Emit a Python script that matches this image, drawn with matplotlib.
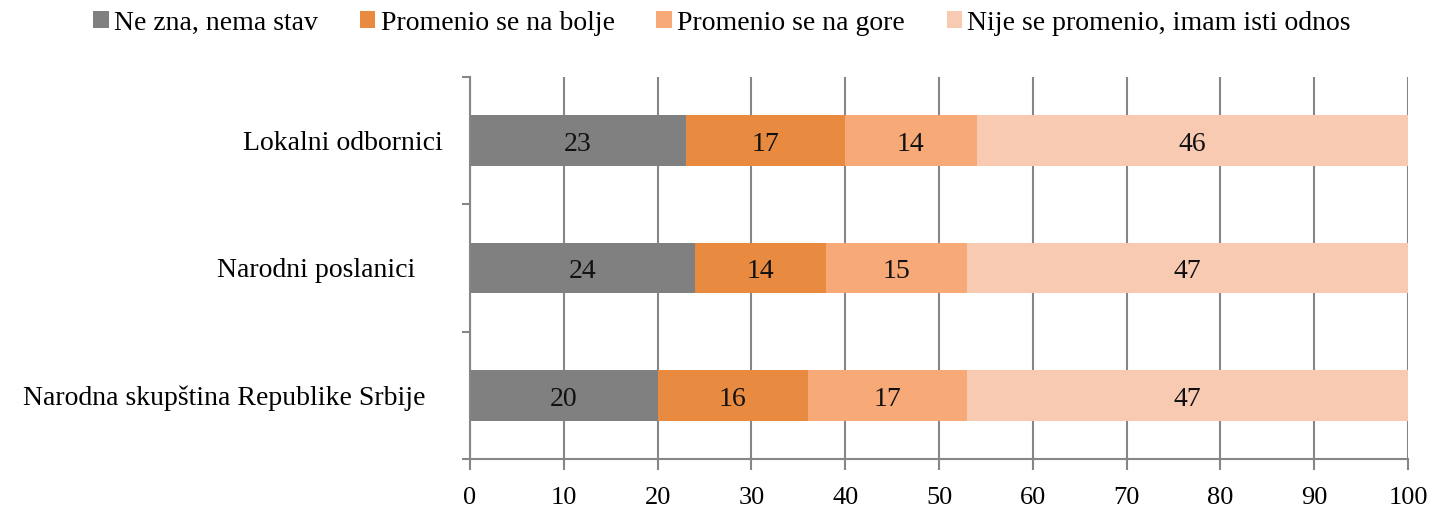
import numpy as np
import matplotlib.pyplot as plt
import matplotlib.transforms as mtransforms
from matplotlib.ticker import MultipleLocator

plt.rcParams['font.family'] = ['Liberation Serif', 'DejaVu Serif']

categories = ["Lokalni odbornici", "Narodni poslanici", "Narodna skupština Republike Srbije"]
series_names = ["Ne zna, nema stav", "Promenio se na bolje",
                "Promenio se na gore", "Nije se promenio, imam isti odnos"]
ne_zna = [23, 24, 20]
bolje = [17, 14, 16]
gore = [14, 15, 17]
isti = [46, 47, 47]
colors = ["#808080", "#E88B40", "#F7AA78", "#F9CAB2"]
xticks = [0, 10, 20, 30, 40, 50, 60, 70, 80, 90, 100]

fig = plt.figure(figsize=(14.3, 5.13), dpi=100)
ax = fig.add_axes([0.3287, 0.1053, 0.6559, 0.7446])

y = np.arange(len(categories))
left = np.zeros(len(categories))
for vals, name, col in zip([ne_zna, bolje, gore, isti], series_names, colors):
    vals = np.array(vals, dtype=float)
    ax.barh(y, vals, left=left, height=0.4, color=col, label=name, zorder=2)
    for yy, l, v in zip(y, left, vals):
        ax.text(l + v / 2, yy + 0.03, f"{int(v)}", ha="center", va="center",
                fontsize=20, color="#111111", zorder=3)
    left += vals

ax.set_ylim(2.5, -0.5)
ax.set_xlim(0, 100)
ax.set_yticks(y)
ax.set_yticklabels(categories, fontsize=20)
ax.yaxis.set_minor_locator(MultipleLocator(1, offset=0.5))
ax.tick_params(axis="y", which="major", length=0, pad=0)
ax.tick_params(axis="y", which="minor", length=6, color="#868686", width=1.5, direction="out")
# excel places the category labels a bit unevenly
shifts = [-27, -55, -45]
for lab, dx in zip(ax.get_yticklabels(), shifts):
    lab.set_transform(lab.get_transform() +
                      mtransforms.ScaledTranslation(dx / 100, 0, fig.dpi_scale_trans))

ax.set_xticks(xticks)
ax.set_xticklabels([str(t) for t in xticks], fontsize=19)
ax.tick_params(axis="x", length=8, color="#868686", width=1.5, direction="out", pad=12)

ax.grid(axis="x", color="#868686", linewidth=1.5, zorder=0)
for s in ["top", "right"]:
    ax.spines[s].set_visible(False)
for s in ["left", "bottom"]:
    ax.spines[s].set_color("#868686")
    ax.spines[s].set_linewidth(1.5)

fig.legend(loc="center", bbox_to_anchor=(0.505, 0.955), ncol=4, frameon=False,
           fontsize=20, handlelength=0.55, handleheight=0.55, handletextpad=0.2,
           columnspacing=1.5)

fig.savefig("out.png", dpi=100)
